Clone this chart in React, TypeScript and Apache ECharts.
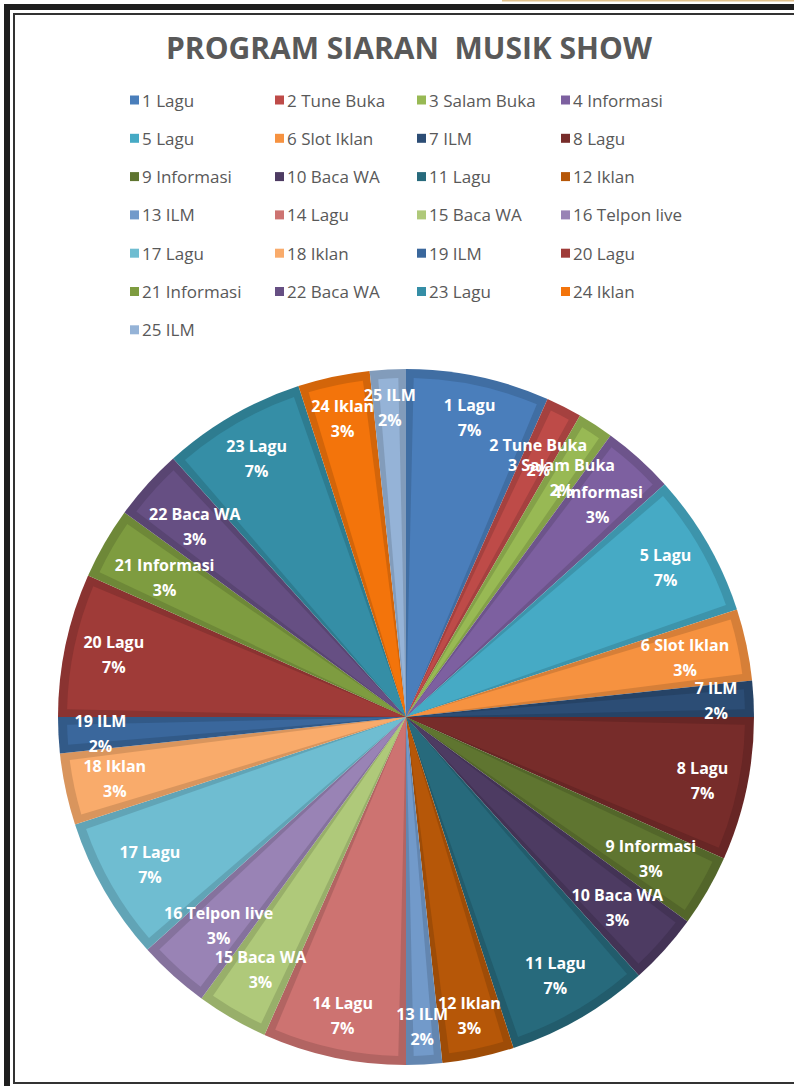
import React, { useEffect, useRef } from "react";
import * as echarts from "echarts";

const categories: string[] = [
  "1 Lagu", "2 Tune Buka", "3 Salam Buka", "4 Informasi", "5 Lagu", "6 Slot Iklan",
  "7 ILM", "8 Lagu", "9 Informasi", "10 Baca WA", "11 Lagu", "12 Iklan",
  "13 ILM", "14 Lagu", "15 Baca WA", "16 Telpon live", "17 Lagu", "18 Iklan",
  "19 ILM", "20 Lagu", "21 Informasi", "22 Baca WA", "23 Lagu", "24 Iklan", "25 ILM",
];

// duration in minutes (total 60)
const minutes: number[] = [
  4, 1, 1, 2, 4, 2,
  1, 4, 2, 2, 4, 2,
  1, 4, 2, 2, 4, 2,
  1, 4, 2, 2, 4, 2, 1,
];

const colors: string[] = [
  "#4A7EBB", "#BE4B48", "#98B954", "#7D60A0", "#46AAC5", "#F69240",
  "#2C4D75", "#772C2A", "#5F7530", "#4D3B62", "#276A7C", "#B65708",
  "#729ACA", "#CD7371", "#AFC97A", "#9983B5", "#6FBDD1", "#F9AB6B",
  "#3A679C", "#9F3B38", "#7E9C40", "#664F83", "#358EA6", "#F3740B", "#95B3D7",
];

const titleText = "PROGRAM SIARAN  MUSIK SHOW";

function darken(hex: string, f: number): string {
  const n = parseInt(hex.slice(1), 16);
  const r = Math.round(((n >> 16) & 255) * f);
  const g = Math.round(((n >> 8) & 255) * f);
  const b = Math.round((n & 255) * f);
  return "#" + [r, g, b].map((v) => v.toString(16).padStart(2, "0")).join("");
}

const FONT = "'Open Sans', 'Noto Sans', sans-serif";

export default function App() {
  const ref = useRef<HTMLDivElement>(null);

  useEffect(() => {
    if (!ref.current) return;
    const chart = echarts.init(ref.current, undefined, { renderer: "svg" });

    const colX = [125, 270, 412, 556];
    const legends = colX.map((x, k) => ({
      orient: "vertical",
      left: x,
      top: 85,
      icon: "rect",
      itemWidth: 9,
      itemHeight: 9,
      itemGap: 18.3,
      selectedMode: false,
      data: categories.filter((_, i) => i % 4 === k),
      textStyle: { fontFamily: FONT, fontSize: 17, color: "#595959", lineHeight: 20, padding: [0, 0, 0, -2] },
    }));

    const center = [406, 717];
    const R = 348;
    const total = minutes.reduce((a, b) => a + b, 0);

    const lightData = categories.map((name, i) => ({
      name,
      value: minutes[i],
      itemStyle: { color: colors[i] },
    }));
    const darkData = categories.map((name, i) => ({
      name,
      value: minutes[i],
      itemStyle: { color: darken(colors[i], 0.87) },
    }));

    // label placement ("inside end"): measure text to keep box inside the rim
    const canvas = document.createElement("canvas");
    const ctx = canvas.getContext("2d")!;
    ctx.font = "bold 16px 'Open Sans'";
    const pct = (i: number) => `${Math.round((minutes[i] / total) * 100)}%`;
    let cum = 0;
    const labelData = categories.map((name, i) => {
      const mid = cum + minutes[i] / 2;
      cum += minutes[i];
      const theta = (mid / total) * Math.PI * 2;
      const w = Math.max(ctx.measureText(name).width, ctx.measureText(pct(i)).width);
      const ext = Math.abs(Math.sin(theta)) * (w / 2) + Math.abs(Math.cos(theta)) * 22;
      const r = R - 15 - ext;
      return { name, value: [r, mid], idx: i };
    });

    const common = {
      type: "pie",
      center,
      startAngle: 90,
      clockwise: true,
      silent: true,
      emphasis: { disabled: true },
      labelLine: { show: false },
      label: { show: false },
    };

    const frameDark = "#1E1E1E";
    const frameThin = "#333333";

    chart.setOption({
      animation: false,
      backgroundColor: "#ffffff",
      graphic: [
        { type: "rect", shape: { x: 502, y: 0, width: 292, height: 1.5 }, style: { fill: "#E2C28C" } },
        { type: "rect", shape: { x: 4, y: 4, width: 790, height: 6 }, style: { fill: frameDark } },
        { type: "rect", shape: { x: 4, y: 4, width: 6, height: 1082 }, style: { fill: frameDark } },
        { type: "rect", shape: { x: 13, y: 13, width: 781, height: 2 }, style: { fill: frameThin } },
        { type: "rect", shape: { x: 13, y: 13, width: 2, height: 1071 }, style: { fill: frameThin } },
        { type: "rect", shape: { x: 13, y: 1082, width: 781, height: 2 }, style: { fill: frameThin } },
      ],
      title: {
        text: titleText,
        left: 161,
        top: 27,
        textStyle: { fontFamily: FONT, fontSize: 30, fontWeight: "bold", color: "#595959" },
      },
      legend: legends,
      polar: { center, radius: R },
      angleAxis: {
        type: "value",
        min: 0,
        max: total,
        startAngle: 90,
        clockwise: true,
        show: false,
      },
      radiusAxis: { type: "value", min: 0, max: R, show: false },
      series: [
        {
          ...common,
          name: "light",
          radius: [0, R - 9],
          padAngle: 2.6,
          z: 3,
          data: lightData,
        },
        {
          ...common,
          name: "dark",
          radius: [0, R],
          z: 2,
          data: darkData,
        },
        {
          type: "scatter",
          name: "labels",
          coordinateSystem: "polar",
          symbol: "circle",
          symbolSize: 1,
          itemStyle: { color: "rgba(0,0,0,0)" },
          silent: true,
          z: 10,
          label: {
            show: true,
            position: "inside",
            color: "#ffffff",
            opacity: 1,
            fontFamily: FONT,
            fontSize: 16,
            fontWeight: "bold",
            lineHeight: 25,
            formatter: (p: any) => `${categories[p.data.idx]}\n${pct(p.data.idx)}`,
          },
          labelLayout: { hideOverlap: false },
          data: labelData,
        },
      ],
    } as any);

    return () => chart.dispose();
  }, []);

  return (
    <div
      ref={ref}
      style={{ position: "absolute", left: 0, top: 0, width: 794, height: 1086 }}
    />
  );
}
